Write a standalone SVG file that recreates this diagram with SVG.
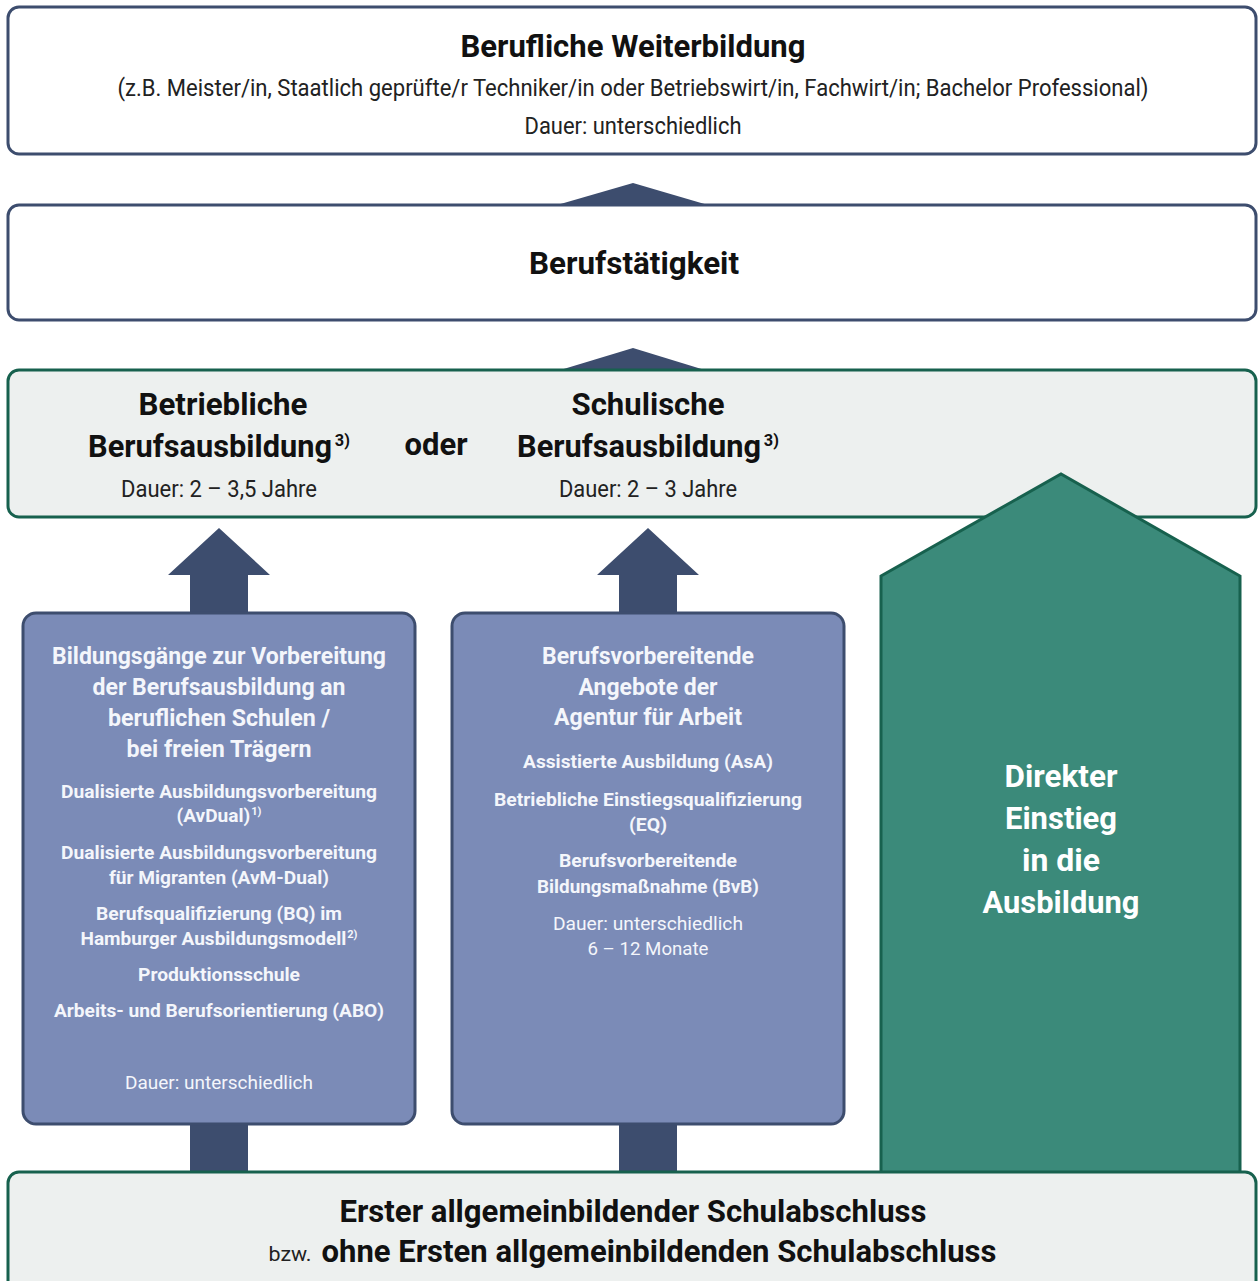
<svg xmlns="http://www.w3.org/2000/svg" width="1258" height="1281" viewBox="0 0 1258 1281">
<style>
text{font-family:"Roboto","Liberation Sans",sans-serif;text-anchor:middle}
.t{font-weight:700;font-size:32px;fill:#111}
.r{font-weight:400;font-size:23px;fill:#222}
.h{font-weight:700;font-size:23px;fill:#f4f6fb}
.s{font-weight:700;font-size:19px;fill:#f4f6fb}
.sr{font-weight:400;font-size:19px;fill:#f4f6fb}
.g{font-weight:700;font-size:32px;fill:#ffffff}
.sup1{font-size:17px}
.sup2{font-size:11px}
.white{fill:#ffffff;stroke:#3d4d6e;stroke-width:3}
.light{fill:#edf0ef;stroke:#17614e;stroke-width:3}
.blue{fill:#7b8bb7;stroke:#3d4d6e;stroke-width:3}
.arr{fill:#3d4d6e}
</style>
<rect width="1258" height="1281" fill="#ffffff"/>
<g id="connectors">
<path class="arr" d="M557 205 L633 183 L708 205 Z"/>
<path class="arr" d="M557 371 L633 348 L708 371 Z"/>
<path class="arr" d="M168 575 L219 528 L270 575 L248 575 L248 614 L190 614 L190 575 Z"/>
<path class="arr" d="M597 575 L648 528 L699 575 L677 575 L677 614 L619 614 L619 575 Z"/>
<rect class="arr" x="190" y="1122" width="58" height="52"/>
<rect class="arr" x="619" y="1122" width="58" height="52"/>
</g>
<g id="weiterbildung">
<rect class="white" x="8" y="7" width="1248" height="147" rx="11"/>
<text class="t" x="633" y="57" textLength="345" lengthAdjust="spacingAndGlyphs">Berufliche Weiterbildung</text>
<text class="r" x="633" y="96" textLength="1031" lengthAdjust="spacingAndGlyphs">(z.B. Meister/in, Staatlich geprüfte/r Techniker/in oder Betriebswirt/in, Fachwirt/in; Bachelor Professional)</text>
<text class="r" x="633" y="134" textLength="217" lengthAdjust="spacingAndGlyphs">Dauer: unterschiedlich</text>
</g>
<g id="berufstaetigkeit">
<rect class="white" x="8" y="205" width="1248" height="115" rx="11"/>
<text class="t" x="634" y="274" textLength="210" lengthAdjust="spacingAndGlyphs">Berufstätigkeit</text>
</g>
<g id="berufsausbildung">
<rect class="light" x="8" y="370" width="1248" height="147" rx="11"/>
<text class="t" x="223" y="415" textLength="169" lengthAdjust="spacingAndGlyphs">Betriebliche</text>
<text class="t" x="219" y="457" textLength="262" lengthAdjust="spacingAndGlyphs">Berufsausbildung<tspan class="sup1" dx="3" dy="-11">3)</tspan></text>
<text class="r" x="219" y="497" textLength="196" lengthAdjust="spacingAndGlyphs">Dauer: 2 – 3,5 Jahre</text>
<text class="t" x="436" y="455" textLength="63" lengthAdjust="spacingAndGlyphs">oder</text>
<text class="t" x="648" y="415" textLength="153" lengthAdjust="spacingAndGlyphs">Schulische</text>
<text class="t" x="648" y="457" textLength="262" lengthAdjust="spacingAndGlyphs">Berufsausbildung<tspan class="sup1" dx="3" dy="-11">3)</tspan></text>
<text class="r" x="648" y="497" textLength="178" lengthAdjust="spacingAndGlyphs">Dauer: 2 – 3 Jahre</text>
</g>
<g id="bildungsgaenge">
<rect class="blue" x="23" y="613" width="392" height="511" rx="13"/>
<text class="h" x="219" y="664" textLength="334" lengthAdjust="spacingAndGlyphs">Bildungsgänge zur Vorbereitung</text>
<text class="h" x="219" y="695" textLength="253" lengthAdjust="spacingAndGlyphs">der Berufsausbildung an</text>
<text class="h" x="219" y="726" textLength="222" lengthAdjust="spacingAndGlyphs">beruflichen Schulen /</text>
<text class="h" x="219" y="757" textLength="185" lengthAdjust="spacingAndGlyphs">bei freien Trägern</text>
<text class="s" x="219" y="798" textLength="316" lengthAdjust="spacingAndGlyphs">Dualisierte Ausbildungsvorbereitung</text>
<text class="s" x="219" y="822" textLength="85" lengthAdjust="spacingAndGlyphs">(AvDual)<tspan class="sup2" dx="1" dy="-7">1)</tspan></text>
<text class="s" x="219" y="859" textLength="316" lengthAdjust="spacingAndGlyphs">Dualisierte Ausbildungsvorbereitung</text>
<text class="s" x="219" y="884" textLength="220" lengthAdjust="spacingAndGlyphs">für Migranten (AvM-Dual)</text>
<text class="s" x="219" y="920" textLength="246" lengthAdjust="spacingAndGlyphs">Berufsqualifizierung (BQ) im</text>
<text class="s" x="219" y="945" textLength="277" lengthAdjust="spacingAndGlyphs">Hamburger Ausbildungsmodell<tspan class="sup2" dx="1" dy="-7">2)</tspan></text>
<text class="s" x="219" y="981" textLength="162" lengthAdjust="spacingAndGlyphs">Produktionsschule</text>
<text class="s" x="219" y="1017" textLength="330" lengthAdjust="spacingAndGlyphs">Arbeits- und Berufsorientierung (ABO)</text>
<text class="sr" x="219" y="1089" textLength="188" lengthAdjust="spacingAndGlyphs">Dauer: unterschiedlich</text>
</g>
<g id="agentur">
<rect class="blue" x="452" y="613" width="392" height="511" rx="13"/>
<text class="h" x="648" y="664" textLength="212" lengthAdjust="spacingAndGlyphs">Berufsvorbereitende</text>
<text class="h" x="648" y="695" textLength="139" lengthAdjust="spacingAndGlyphs">Angebote der</text>
<text class="h" x="648" y="725" textLength="188" lengthAdjust="spacingAndGlyphs">Agentur für Arbeit</text>
<text class="s" x="648" y="768" textLength="250" lengthAdjust="spacingAndGlyphs">Assistierte Ausbildung (AsA)</text>
<text class="s" x="648" y="806" textLength="308" lengthAdjust="spacingAndGlyphs">Betriebliche Einstiegsqualifizierung</text>
<text class="s" x="648" y="831" textLength="38" lengthAdjust="spacingAndGlyphs">(EQ)</text>
<text class="s" x="648" y="867" textLength="178" lengthAdjust="spacingAndGlyphs">Berufsvorbereitende</text>
<text class="s" x="648" y="893" textLength="222" lengthAdjust="spacingAndGlyphs">Bildungsmaßnahme (BvB)</text>
<text class="sr" x="648" y="930" textLength="190" lengthAdjust="spacingAndGlyphs">Dauer: unterschiedlich</text>
<text class="sr" x="648" y="955" textLength="121" lengthAdjust="spacingAndGlyphs">6 – 12 Monate</text>
</g>
<g id="direkter-einstieg">
<path d="M881 576 L1061 474 L1240 576 L1240 1174 L881 1174 Z" fill="#3b8a7a" stroke="#17614e" stroke-width="3"/>
<text class="g" x="1061" y="787" textLength="113" lengthAdjust="spacingAndGlyphs">Direkter</text>
<text class="g" x="1061" y="829" textLength="112" lengthAdjust="spacingAndGlyphs">Einstieg</text>
<text class="g" x="1061" y="871" textLength="78" lengthAdjust="spacingAndGlyphs">in die</text>
<text class="g" x="1061" y="913" textLength="157" lengthAdjust="spacingAndGlyphs">Ausbildung</text>
</g>
<g id="schulabschluss">
<rect class="light" x="8" y="1172" width="1248" height="130" rx="11"/>
<text class="t" x="633" y="1222" textLength="587" lengthAdjust="spacingAndGlyphs">Erster allgemeinbildender Schulabschluss</text>
<text class="r" x="290" y="1261" style="font-size:21px" textLength="43" lengthAdjust="spacingAndGlyphs">bzw.</text>
<text class="t" x="659" y="1262" textLength="675" lengthAdjust="spacingAndGlyphs">ohne Ersten allgemeinbildenden Schulabschluss</text>
</g>
</svg>
